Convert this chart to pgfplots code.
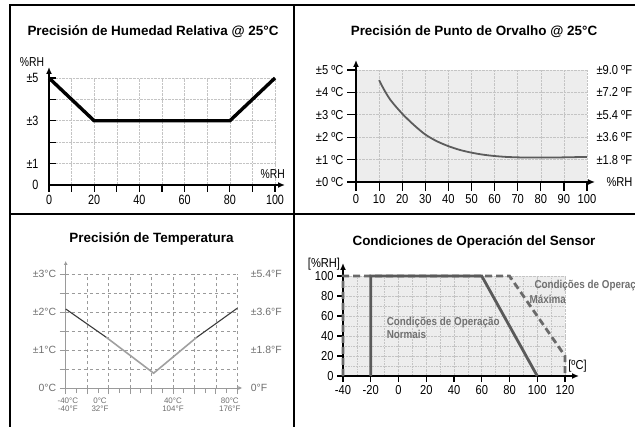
\documentclass[border=0pt]{standalone}
\usepackage{pgfplots}
\pgfplotsset{compat=1.18}
\usetikzlibrary{arrows.meta}
\usepackage{fontspec}
\setmainfont{Liberation Sans}
\newfontfamily\narrowA{Liberation Sans}[FakeStretch=0.8]
\newfontfamily\narrowB{Liberation Sans}[FakeStretch=0.86]

\definecolor{panelbg}{HTML}{EDEDED}
\definecolor{gridc}{HTML}{C4C4C4}
\definecolor{dewcurve}{HTML}{5C5C5C}
\definecolor{normalop}{HTML}{5A5A5A}
\definecolor{maxop}{HTML}{6A6A6A}
\definecolor{tgrid}{HTML}{9A9A9A}
\definecolor{ttext}{HTML}{6E6E6E}
\definecolor{tdark}{HTML}{3A3A3A}
\definecolor{tlight}{HTML}{A0A0A0}
\definecolor{optext}{HTML}{707070}

\pgfplotsset{
  panel/.style={
    scale only axis, anchor=south west, clip=false,
    axis lines=left, tick align=outside,
    axis line style={line width=1.4bp},
    tick style={black, line width=1.2bp},
    major tick length=7bp,
    grid=major, grid style={gridc, densely dotted, line width=0.6bp},
    /pgf/number format/assume math mode=true,
  },
}

\begin{document}
\begin{tikzpicture}
\path[use as bounding box] (0,0) rectangle (635bp,427bp);

% frame of the four panels
\draw[line width=2bp] (10bp,0) -- (10bp,422bp) -- (635bp,422bp)
  (294bp,0) -- (294bp,422bp) (10bp,213bp) -- (635bp,213bp);

% titles
\begin{scope}[every node/.style={font=\bfseries\fontsize{13.5}{16}\selectfont}]
\node at (153bp,395bp) {Precisión de Humedad Relativa @ 25°C};
\node at (474bp,395bp) {Precisión de Punto de Orvalho @ 25°C};
\node at (151.5bp,188bp) {Precisión de Temperatura};
\node at (474bp,185bp) {Condiciones de Operación del Sensor};
\end{scope}

% humidity accuracy
\begin{axis}[panel, at={(49bp,242bp)}, width=226bp, height=107bp,
  xmin=0, xmax=100, ymin=0, ymax=5,
  x axis line style={-{Latex[length=7bp,width=6bp]}, shorten >=-10bp},
  y axis line style={-{Latex[length=7bp,width=6bp]}, shorten >=-11bp},
  xtick={0,10,...,100}, xticklabels={0,,20,,40,,60,,80,,100},
  ytick={0,1,2,3,4,5}, yticklabels={0,±1,,±3,,±5},
  ytick style={draw=none},
  tick label style={font=\narrowA\fontsize{13.5}{15}\selectfont},
]
\addplot[black, line width=3.4bp] coordinates {(0,5) (20,3) (80,3) (100,5)};
\pgfplotsinvokeforeach{1,2,3,4,5}{\draw[line width=1.2bp] (axis cs:0,#1) -- ++(7bp,0);}
\node[font=\narrowA\fontsize{13}{15}\selectfont] at (axis cs:-7.5,5.75) {\%RH};
\node[font=\narrowA\fontsize{13}{15}\selectfont] at (axis cs:99,0.5) {\%RH};
\end{axis}

% dew point accuracy
\begin{axis}[panel, at={(356bp,245bp)}, width=231bp, height=112bp,
  xmin=0, xmax=100, ymin=0, ymax=5,
  axis background/.style={fill=panelbg},
  axis line style={line width=1.3bp},
  x axis line style={-{Latex[length=7bp,width=6bp]}, shorten >=-8bp},
  y axis line style={-{Latex[length=7bp,width=6bp]}, shorten >=-10bp},
  xtick={0,10,...,100}, xticklabels={0,10,20,30,40,50,60,70,80,90,100},
  ytick={0,1,2,3,4,5}, yticklabels={±0 ºC,±1 ºC,±2 ºC,±3 ºC,±4 ºC,±5 ºC},
  major tick length=9bp,
  tick label style={font=\narrowB\fontsize{13}{15}\selectfont},
]
\addplot[dewcurve, line width=1.8bp, smooth] coordinates {
  (10,4.55) (12,4.15) (15,3.65) (20,3.05) (25,2.55) (30,2.12) (35,1.82)
  (40,1.6) (45,1.43) (50,1.31) (55,1.22) (60,1.16) (65,1.12) (70,1.1)
  (75,1.09) (80,1.09) (85,1.09) (90,1.1) (95,1.11) (100,1.12)};
\begin{scope}[every node/.style={anchor=west, xshift=6bp, font=\narrowB\fontsize{13}{15}\selectfont}]
\node at (axis cs:100,5) {±9.0 ºF};
\node at (axis cs:100,4) {±7.2 ºF};
\node at (axis cs:100,3) {±5.4 ºF};
\node at (axis cs:100,2) {±3.6 ºF};
\node at (axis cs:100,1) {±1.8 ºF};
\node[xshift=10bp] at (axis cs:100,0) {\%RH};
\end{scope}
\end{axis}

% temperature accuracy
\begin{axis}[panel, at={(65.7bp,39bp)}, width=171.6bp, height=114bp,
  xmin=-40, xmax=120, ymin=0, ymax=3,
  axis line style={tgrid, line width=0.8bp},
  x axis line style={-{Latex[length=4bp,width=4bp]}, shorten >=-5bp},
  y axis line style={-{Latex[length=4bp,width=4bp]}, shorten >=-13bp},
  xtick={-40,-20,...,120}, xticklabels={},
  minor x tick num=1,
  ytick={0,0.5,...,3}, yticklabels={0°C,,±1°C,,±2°C,,±3°C},
  tick style={tgrid, line width=0.7bp},
  major tick length=6bp, minor tick length=5bp,
  grid style={tgrid, dashed, line width=0.6bp},
  tick label style={font=\fontsize{10.5}{12}\selectfont, text=ttext},
  extra x ticks={-38,-8,60,113},
  extra x tick labels={{-40°C\\-40°F},{0°C\\32°F},{40°C\\104°F},{80°C\\176°F}},
  extra x tick style={grid=none, tick style={draw=none},
    tick label style={align=center, font=\fontsize{8}{8}\selectfont}},
]
\addplot[tdark, line width=1.1bp] coordinates {(-40,2.08) (-2,1.33)};
\addplot[tlight, line width=1.6bp] coordinates {(-2,1.33) (42,0.39) (82,1.33)};
\addplot[tdark, line width=1.1bp] coordinates {(82,1.33) (120,2.1)};
\begin{scope}[every node/.style={anchor=west, xshift=10bp, text=ttext, font=\fontsize{10.5}{12}\selectfont}]
\node at (axis cs:120,3) {±5.4°F};
\node at (axis cs:120,2) {±3.6°F};
\node at (axis cs:120,1) {±1.8°F};
\node at (axis cs:120,0) {0°F};
\end{scope}
\end{axis}

% operating conditions
\begin{axis}[panel, at={(343bp,51bp)}, width=222bp, height=100bp,
  xmin=-40, xmax=120, ymin=0, ymax=100,
  axis background/.style={fill=panelbg},
  x axis line style={-{Latex[length=7bp,width=6bp]}, shorten >=-14bp},
  y axis line style={-{Latex[length=7bp,width=6bp]}, shorten >=-13bp},
  xtick={-40,-20,...,120}, ytick={0,20,...,100},
  xticklabels={-40,-20,0,20,40,60,80,100,120}, yticklabels={0,20,40,60,80,100},
  minor x tick num=1, minor y tick num=1, minor tick length=0bp,
  grid=both, minor grid style={gridc, densely dotted, line width=0.5bp},
  major tick length=6bp,
  tick label style={font=\narrowB\fontsize{13}{15}\selectfont},
]
\addplot[maxop, line width=2.8bp, dash pattern=on 7bp off 4bp]
  coordinates {(-40,0) (-40,100) (80,100) (120,20) (120,0)};
\addplot[normalop, line width=2.8bp]
  coordinates {(-20,0) (-20,100) (60,100) (100,0)};
\begin{scope}[every node/.style={text=optext, font=\bfseries\narrowB\fontsize{11.5}{13}\selectfont}]
\node[anchor=north west, align=left] at (axis cs:-11,62) {Condições de Operação\\Normais};
\node[anchor=west] at (axis cs:95.5,90) {Condições de Operação};
\node[anchor=west] at (axis cs:92,77) {Máxima};
\end{scope}
\begin{scope}[every node/.style={font=\narrowB\fontsize{13}{15}\selectfont}]
\node at (axis cs:-53.7,112) {[\%RH]};
\node at (axis cs:129,10) {[ºC]};
\end{scope}
\end{axis}
\end{tikzpicture}
\end{document}
